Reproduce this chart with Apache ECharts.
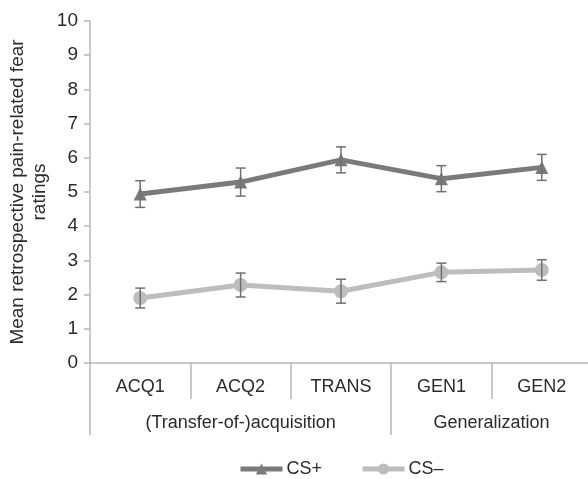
<!DOCTYPE html>
<html><head><meta charset="utf-8">
<script src="https://cdn.jsdelivr.net/npm/echarts@6/dist/echarts.min.js"></script>
<style>html,body{margin:0;padding:0;background:#fff}#c{width:588px;height:479px}</style>
</head><body><div id="c"></div>
<script>
var categories = ['ACQ1', 'ACQ2', 'TRANS', 'GEN1', 'GEN2'];
var groups = ['(Transfer-of-)acquisition', 'Generalization'];
var groupCenters = [1.5, 4];
var groupBounds = [0, 3];
var csPlus = [4.94, 5.29, 5.94, 5.39, 5.72];
var csPlusErr = [0.39, 0.41, 0.38, 0.38, 0.38];
var csMinus = [1.90, 2.28, 2.10, 2.65, 2.72];
var csMinusErr = [0.29, 0.35, 0.35, 0.27, 0.30];
var yTicks = [0, 1, 2, 3, 4, 5, 6, 7, 8, 9, 10];

var FONT = 'Liberation Sans';
var axisGray = '#b8b8b8';
var txt = '#2b2b2b';
var plusColor = '#7a7a7c';
var minusColor = '#bdbdbf';

function errData(vals, errs) {
  return vals.map(function (v, i) { return [i, v - errs[i], v + errs[i]]; });
}
function errRender(params, api) {
  var x = api.value(0);
  var lo = api.coord([x, api.value(1)]);
  var hi = api.coord([x, api.value(2)]);
  var w = 5;
  var st = { stroke: '#707070', lineWidth: 1.5 };
  return { type: 'group', children: [
    { type: 'line', shape: { x1: lo[0], y1: lo[1], x2: hi[0], y2: hi[1] }, style: st },
    { type: 'line', shape: { x1: lo[0] - w, y1: lo[1], x2: lo[0] + w, y2: lo[1] }, style: st },
    { type: 'line', shape: { x1: hi[0] - w, y1: hi[1], x2: hi[0] + w, y2: hi[1] }, style: st }
  ]};
}

var chart = echarts.init(document.getElementById('c'));
chart.setOption({
  animation: false,
  textStyle: { fontFamily: FONT },
  grid: { left: 90, right: -4, top: 21, bottom: 116, outerBoundsMode: 'none', containLabel: false },
  legend: {
    top: 460, left: 238, padding: 0, itemWidth: 42, itemHeight: 14, itemGap: 38,
    textStyle: { fontSize: 18, color: txt, fontFamily: FONT, padding: [0, 0, 0, -1] },
    data: [
      { name: 'CS+', lineStyle: { width: 5 } },
      { name: 'CS\u2013', lineStyle: { width: 5 } }
    ]
  },
  xAxis: [{
    type: 'category', data: categories, boundaryGap: true,
    axisLine: { lineStyle: { color: axisGray, width: 1.5 } },
    axisTick: { show: true, interval: 0, length: 36, lineStyle: { color: axisGray, width: 1.5 } },
    axisLabel: { fontSize: 18, color: txt, margin: 15, fontFamily: FONT },
    splitLine: { show: false }
  }, {
    type: 'value', min: 0, max: 5, position: 'bottom', offset: 36,
    axisLine: { show: false },
    axisTick: { show: true, customValues: groupBounds, length: 36, lineStyle: { color: axisGray, width: 1.5 } },
    axisLabel: {
      customValues: groupCenters, fontSize: 18, color: txt, margin: 15, fontFamily: FONT,
      formatter: function (v) { var i = groupCenters.indexOf(v); return i >= 0 ? groups[i] : ''; }
    },
    splitLine: { show: false }
  }],
  yAxis: {
    type: 'value', min: 0, max: 10, interval: 1,
    name: 'Mean retrospective pain-related fear\nratings',
    nameLocation: 'middle', nameGap: 39, nameRotate: 90, nameMoveOverlap: false,
    nameTextStyle: { fontSize: 19, color: txt, fontFamily: FONT, lineHeight: 22 },
    axisLine: { show: true, lineStyle: { color: axisGray, width: 1.5 } },
    axisTick: { show: true, length: 6, lineStyle: { color: axisGray, width: 1.5 } },
    axisLabel: { fontSize: 19, color: txt, margin: 12, fontFamily: FONT,
      formatter: function (v) { return yTicks.indexOf(v) >= 0 ? String(v) : ''; } },
    splitLine: { show: false }
  },
  series: [{
    name: 'CS+', type: 'line', data: csPlus, xAxisIndex: 0,
    symbol: 'triangle', symbolSize: 13,
    lineStyle: { color: plusColor, width: 5 }, itemStyle: { color: plusColor }, z: 3
  }, {
    name: 'CS\u2013', type: 'line', data: csMinus, xAxisIndex: 0,
    symbol: 'circle', symbolSize: 14,
    lineStyle: { color: minusColor, width: 5 }, itemStyle: { color: minusColor }, z: 3
  }, {
    type: 'custom', xAxisIndex: 0, data: errData(csPlus, csPlusErr), renderItem: errRender, z: 4, silent: true
  }, {
    type: 'custom', xAxisIndex: 0, data: errData(csMinus, csMinusErr), renderItem: errRender, z: 4, silent: true
  }]
});
</script></body></html>
